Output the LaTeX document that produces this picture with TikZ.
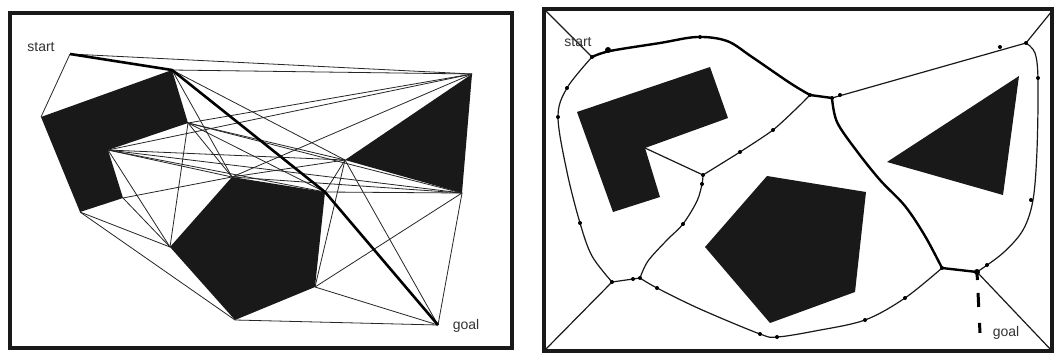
\documentclass[tikz,border=0pt]{standalone}
\usepackage{fontspec}
\setmainfont{Liberation Sans}
\begin{document}
\begin{tikzpicture}[x=1pt,y=-1pt]
\tikzset{
  frame/.style={line width=3.5pt, black!90},
  obst/.style={fill=black!90, draw=none},
  vis/.style={line width=0.8pt, black!85},
  best/.style={line width=2.6pt, black},
  vor/.style={line width=1.2pt, black!90},
  vorthick/.style={line width=2.4pt, black},
  lbl/.style={font=\fontsize{14}{14}\selectfont, text=black!80, inner sep=0pt},
}
\path[use as bounding box, fill=white] (0,0) rectangle (1055,356);

% ================= LEFT PANEL: visibility graph =================
\draw[frame] (10,13) rectangle (512,348);

\coordinate (S) at (70,54);   \coordinate (G) at (438,325);
\coordinate (L1) at (41,117); \coordinate (L2) at (172,70); \coordinate (L3) at (188,123);
\coordinate (L4) at (108,150); \coordinate (L5) at (123,198); \coordinate (L6) at (80,212);
\coordinate (T1) at (472,74); \coordinate (T2) at (345,160); \coordinate (T3) at (462,193);
\coordinate (P1) at (232,177); \coordinate (P2) at (325,192); \coordinate (P3) at (315,287);
\coordinate (P4) at (235,320); \coordinate (P5) at (170,247);

\fill[obst] (L1) -- (L2) -- (L3) -- (L4) -- (L5) -- (L6) -- cycle;
\fill[obst] (T1) -- (T2) -- (T3) -- cycle;
\fill[obst] (P1) -- (P2) -- (P3) -- (P4) -- (P5) -- cycle;

\draw[vis] (S) -- (L1);
\draw[vis] (S) -- (T1);
\draw[vis] (L2) -- (T1);
\draw[vis] (L2) -- (T2);
\draw[vis] (L2) -- (P1);
\draw[vis] (L3) -- (T1);
\draw[vis] (L3) -- (T2);
\draw[vis] (L3) -- (T3);
\draw[vis] (L3) -- (P1);
\draw[vis] (L3) -- (P2);
\draw[vis] (L3) -- (P5);
\draw[vis] (L4) -- (T1);
\draw[vis] (L4) -- (T2);
\draw[vis] (L4) -- (T3);
\draw[vis] (L4) -- (P1);
\draw[vis] (L4) -- (P2);
\draw[vis] (L4) -- (P5);
\draw[vis] (L5) -- (P5);
\draw[vis] (L5) -- (P1);
\draw[vis] (L6) -- (P5);
\draw[vis] (L6) -- (P4);
\draw[vis] (P1) -- (T1);
\draw[vis] (P1) -- (T2);
\draw[vis] (P1) -- (T3);
\draw[vis] (P2) -- (T2);
\draw[vis] (P2) -- (T3);
\draw[vis] (P3) -- (T2);
\draw[vis] (P3) -- (T3);
\draw[vis] (P3) -- (G);
\draw[vis] (P4) -- (G);
\draw[vis] (T2) -- (G);
\draw[vis] (T3) -- (G);

\draw[best, line join=round] (S) -- (L2) -- (P2) -- (G);

\node[lbl] (startL) at (41,47) {start};
\node[lbl] (goalL) at (466,326) {goal};

% ================= RIGHT PANEL: Voronoi roadmap =================
\draw[frame] (544,9) rectangle (1052,351);

\coordinate (C1) at (544,9);  \coordinate (C2) at (1052,11);
\coordinate (C3) at (1052,351); \coordinate (C4) at (544,351);
\coordinate (V1) at (592,57); \coordinate (V2) at (810,95); \coordinate (V3) at (832,98);
\coordinate (V4) at (1026,43); \coordinate (V5) at (942,268); \coordinate (V6) at (977,272);
\coordinate (V7) at (640,278); \coordinate (V8) at (612,282); \coordinate (V9) at (703,175);
\coordinate (N) at (645,148); \coordinate (GR) at (980,333);

\fill[obst] (577,112) -- (710,67) -- (728,118) -- (N) -- (660,197) -- (613,212) -- cycle;
\fill[obst] (1019,76) -- (887,162) -- (1003,195) -- cycle;
\fill[obst] (767,176) -- (866,192) -- (855,292) -- (770,323) -- (705,247) -- cycle;

% thin Voronoi edges
\draw[vor] (C1) -- (V1);
\draw[vor] (V3) -- (V4);
\draw[vor] (V4) -- (C2);
\draw[vor] plot[smooth, tension=0.55] coordinates {(V4) (1035,53) (1038,80) (1037,150) (1033,200) (1023,230) (1003,253) (V6)};
\draw[vor] (V6) -- (C3);
\draw[vor] plot[smooth, tension=0.55] coordinates {(V5) (905,298) (865,320) (815,331) (777,337) (760,334) (700,309) (657,288) (V7)};
\draw[vor] (V7) -- (V8);
\draw[vor] (V8) -- (C4);
\draw[vor] plot[smooth, tension=0.55] coordinates {(V8) (592,256) (580,223) (567,172) (558,117) (567,88) (V1)};
\draw[vor] plot[smooth, tension=0.55] coordinates {(V7) (648,261) (667,240) (683,224) (697,201) (702,184) (V9)};
\draw[vor] (V9) -- (N);
\draw[vor] plot[smooth, tension=0.4] coordinates {(V9) (740,152) (773,130) (797,108) (V2)};

% thick path
\draw[vorthick, line cap=round, line join=round] plot[smooth, tension=0.55] coordinates {(V1) (610,51) (660,43) (697,37) (727,41) (752,57) (790,83) (V2)};
\draw[vorthick] (V2) -- (V3);
\draw[vorthick, line cap=round] plot[smooth, tension=0.55] coordinates {(V3) (837,122) (856,150) (880,180) (905,206) (925,236) (V5)};
\draw[vorthick] (V5) -- (V6);
\draw[line width=3pt, dash pattern=on 8pt off 13pt on 14pt off 16pt on 10pt] (V6) -- (GR);

% waypoints
\foreach \p in {(700,37),(740,152),(773,130),(V2),(V3),(840,95),(1000,47),(V4),(1038,78),
  (1031,200),(987,265),(V5),(905,298),(865,320),(777,337),(760,334),(657,288),(V7),(633,279),
  (V8),(580,223),(558,117),(567,88),(V1),(683,224),(702,184),(V9)}
  \fill \p circle (2pt);
\fill (608,50) circle (3pt);
\fill (V6) circle (3pt);

\node[lbl] (startR) at (578,42) {start};
\node[lbl] (goalR) at (1006,333) {goal};
\end{tikzpicture}
\end{document}
